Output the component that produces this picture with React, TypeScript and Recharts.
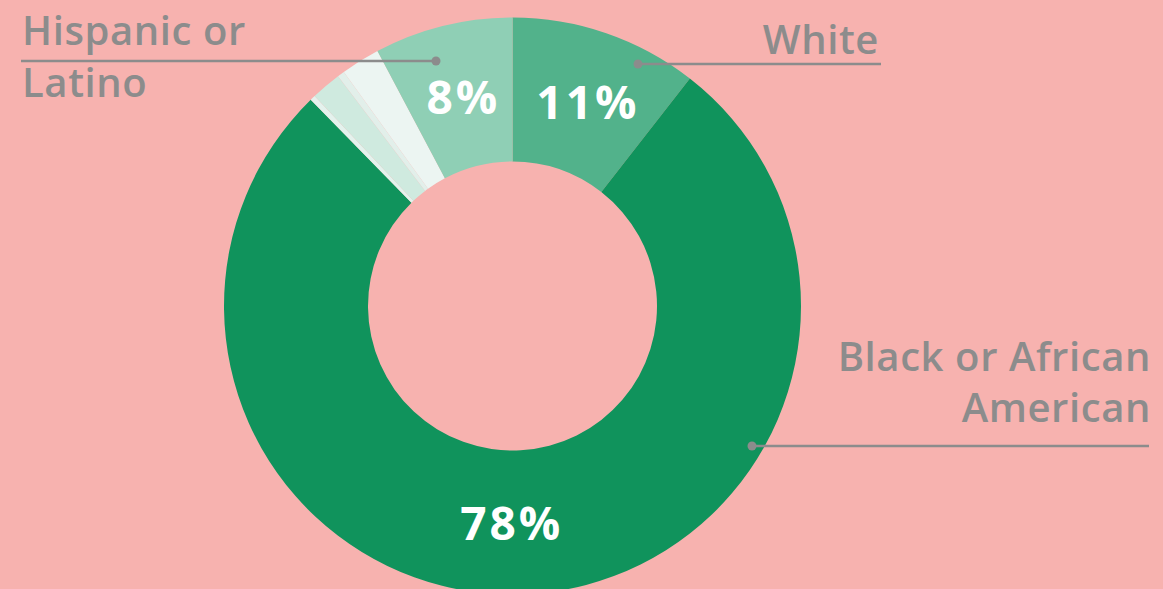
import React from 'react';
import { PieChart, Pie, Cell } from 'recharts';

// slice order goes clockwise from 12 o'clock
const groups = ['White', 'Black or African American', 'Other A', 'Asian', 'Other B', 'Two or more', 'Hispanic or Latino'];
const shares = [10.6, 77.6, 0.3, 1.7, 0.4, 2.2, 7.8];
const sliceColors = ['#52b28b', '#10935c', '#e4f2ed', '#cfeadf', '#e2efea', '#ecf5f2', '#8fcfb5'];
const showPct = ['White', 'Black or African American', 'Hispanic or Latino'];

const data = groups.map((g, i) => ({ name: g, value: shares[i] }));

const BG = '#f7b2af';
const GREY = '#8c8c8c';
const FONT = '"Open Sans", sans-serif';
const RAD = Math.PI / 180;

// small nudges so the big labels sit where the original put them
const pctNudge: Record<string, number> = { 'Black or African American': -13, White: 5, 'Hispanic or Latino': 3 };

if (typeof document !== 'undefined') document.body.style.margin = '0';

const renderPct = (props: any) => {
  const { cx, cy, midAngle, innerRadius, outerRadius, payload, value } = props;
  if (!showPct.includes(payload.name)) return null;
  const r = (innerRadius + outerRadius) / 2;
  const x = cx + r * Math.cos(-midAngle * RAD) + (pctNudge[payload.name] || 0);
  const y = cy + r * Math.sin(-midAngle * RAD);
  return (
    <text x={x} y={y} fill="#fff" textAnchor="middle" dominantBaseline="central"
      fontFamily={FONT} fontWeight={700} fontSize={46} letterSpacing={3}>
      {`${Math.round(value)}%`}
    </text>
  );
};

const Callouts = () => (
  <svg width={1163} height={589} style={{ position: 'absolute', left: 0, top: 0, pointerEvents: 'none' }}>
    <g fontFamily={FONT} fontWeight={600} fontSize={40} fill={GREY} letterSpacing={0.6}>
      <text x={22} y={45}>Hispanic or</text>
      <text x={22} y={97}>Latino</text>
      <text x={879} y={54} textAnchor="end">White</text>
      <text x={1151} y={371} textAnchor="end">Black or African</text>
      <text x={1151} y={422} textAnchor="end">American</text>
    </g>
    <g stroke={GREY} strokeWidth={2.5}>
      <line x1={21} y1={61} x2={436} y2={61} />
      <line x1={638} y1={64} x2={881} y2={64} />
      <line x1={752} y1={446} x2={1149} y2={446} />
    </g>
    <g fill={GREY}>
      <circle cx={436} cy={61} r={4.5} />
      <circle cx={638} cy={64} r={4.5} />
      <circle cx={752} cy={446} r={4.5} />
    </g>
  </svg>
);

export default function App() {
  return (
    <div style={{ position: 'relative', width: 1163, height: 589, background: BG, overflow: 'hidden' }}>
      <PieChart width={1163} height={589} margin={{ top: 0, right: 0, bottom: 0, left: 0 }}>
        <Pie
          data={data}
          dataKey="value"
          nameKey="name"
          cx={512.5}
          cy={306}
          innerRadius={144.5}
          outerRadius={288.5}
          startAngle={90}
          endAngle={-270}
          stroke="none"
          label={renderPct}
          labelLine={false}
          isAnimationActive={false}
        >
          {data.map((d, i) => (
            <Cell key={d.name} fill={sliceColors[i]} />
          ))}
        </Pie>
      </PieChart>
      <Callouts />
    </div>
  );
}
